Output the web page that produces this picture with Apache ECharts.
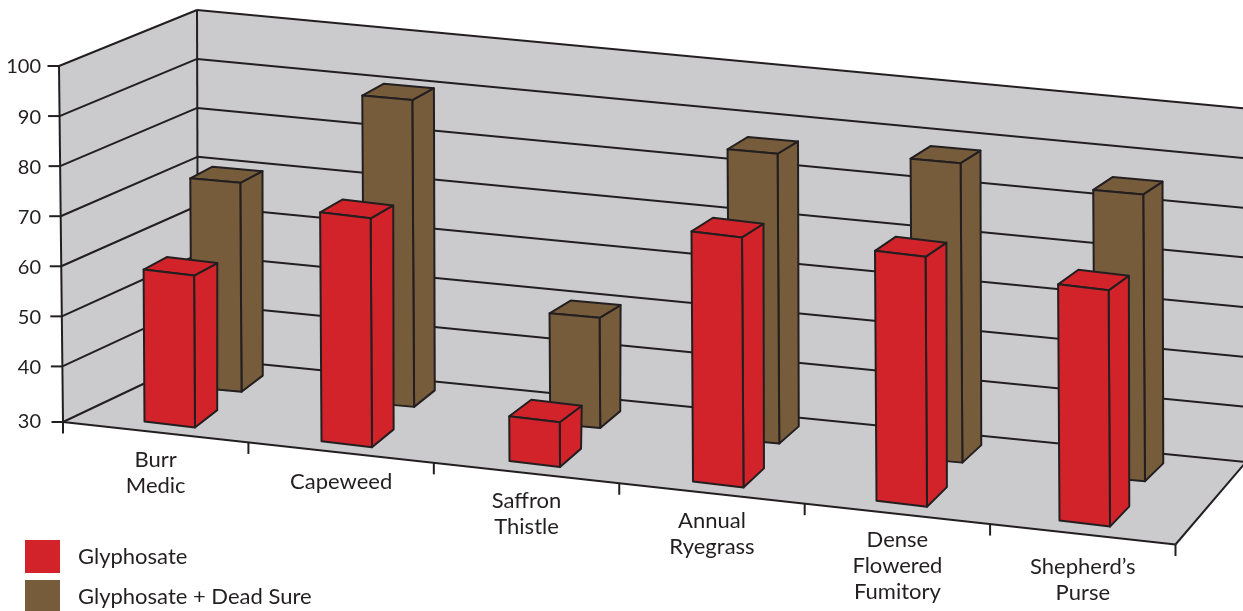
<!DOCTYPE html>
<html>
<head>
<meta charset="utf-8">
<style>html,body{margin:0;padding:0;background:#fff;overflow:hidden}#chart{width:1243px;height:611px}</style>
<script src="https://cdn.jsdelivr.net/npm/echarts@6/dist/echarts.min.js"></script>
</head>
<body>
<div id="chart"></div>
<script>
// Weed control by herbicide treatment
const categories = ['Burr\nMedic', 'Capeweed', 'Saffron\nThistle', 'Annual\nRyegrass', 'Dense\nFlowered\nFumitory', 'Shepherd\u2019s\nPurse'];
const glyphosate = [59.2, 74.5, 37.8, 78.5, 78.4, 75.6];
const glyphosateDeadSure = [70.6, 90, 50.8, 86.4, 88.2, 85.6];
const tickValues = [30, 40, 50, 60, 70, 80, 90, 100];

// The axis runs slightly past its lowest tick, which is drawn on the floor.
const axisFloor = 28.9;
const axisTop = 100;

const INK = '#231f20';
const WALL = '#cbcbcd';
const FONT = 'Lato';
const LINE = 2;

// Corners of the chart box: [across, depth, up] -> screen position.
const box = {
  '000': [63, 422], '001': [59, 66], '010': [198, 358], '011': [197, 10],
  '100': [1175.5, 544.5], '101': [1173, 185], '110': [1246, 462], '111': [1246, 108.5]
};
const lerp = (a, b, t) => a + (b - a) * t;
const lerp2 = (a, b, t) => [lerp(a[0], b[0], t), lerp(a[1], b[1], t)];

function boxPoint(u, d, h) {
  const near = lerp2(lerp2(box['000'], box['100'], u), lerp2(box['001'], box['101'], u), h);
  const far = lerp2(lerp2(box['010'], box['110'], u), lerp2(box['011'], box['111'], u), h);
  return lerp2(near, far, d);
}

// Each treatment stands on its own row of the floor; the boxes sit a little
// unevenly along a row, hence the per-category shifts.
const rows = {
  front: {
    from: [75.5, 414.5], to: [1176.5, 533.5], width: [50.5, 6], depthFrom: [22.5, -17], depthTo: [19, -20.5],
    shift: [[2.5, 0], [-4, 0], [0.5, 0], [0.5, 0.5], [0.5, 0], [0, 0]]
  },
  back: {
    from: [122.5, 379.5], to: [1209, 488], width: [50, 4.5], depthFrom: [21.5, -16], depthTo: [18, -18],
    shift: [[3.5, 1], [-5, -2], [0, 1], [-2, -1.5], [0, -0.5], [1.5, 0]]
  }
};
const labelDrop = [1, 2, 1, 0, -1, 6];

const line = (a, b, width) => ({
  type: 'line',
  shape: { x1: a[0], y1: a[1], x2: b[0], y2: b[1] },
  style: { stroke: INK, lineWidth: width || LINE, fill: null }
});
const face = (points, fill, stroke) => ({
  type: 'polygon',
  shape: { points },
  style: { fill, stroke: stroke || INK, lineWidth: LINE, lineJoin: 'round' }
});

function norm(params, api, i, v) {
  const p = api.coord([i, v]);
  const g = params.coordSys;
  return { u: (p[0] - g.x) / g.width, h: (g.y + g.height - p[1]) / g.height };
}

// Walls, floor, grid lines, ticks and their labels.
function renderFrame(params, api) {
  const children = [
    face([box['000'], box['001'], box['011'], box['010']], WALL, 'none'),
    face([box['010'], box['011'], box['111'], box['110']], WALL, 'none'),
    face([box['000'], box['010'], box['110'], box['100']], WALL, 'none')
  ];
  tickValues.forEach((t, k) => {
    const { h } = norm(params, api, 0, k === 0 ? axisFloor : t);
    const a = boxPoint(0, 0, h), b = boxPoint(0, 1, h), c = boxPoint(1, 1, h);
    children.push(line(a, b), line(b, c), line([a[0] - 11.5, a[1]], a));
    children.push({
      type: 'text',
      style: { text: String(t), x: 41, y: a[1] + (k === 0 ? 0 : 1), align: 'right', verticalAlign: 'middle', fill: INK, font: '20px ' + FONT }
    });
  });
  children.push(line(boxPoint(0, 0, 0), boxPoint(0, 0, 1)));
  children.push(line(boxPoint(0, 1, 0), boxPoint(0, 1, 1)));
  children.push(line(boxPoint(0, 0, 0), boxPoint(1, 0, 0)));
  children.push(line(boxPoint(1, 0, 0), boxPoint(1, 1, 0)));
  const n = categories.length;
  for (let i = 0; i <= n; i++) {
    const p = boxPoint(i / n, 0, 0);
    children.push(line(p, [p[0], p[1] + 11.5]));
  }
  categories.forEach((name, i) => {
    const { u } = norm(params, api, i, axisFloor);
    const p = boxPoint(u, 0, 0);
    children.push({
      type: 'text',
      style: { text: name, x: p[0], y: p[1] + 14 + labelDrop[i], align: 'center', verticalAlign: 'top', fill: INK, font: '22px ' + FONT, lineHeight: 26 }
    });
  });
  return { type: 'group', children };
}

// One box per value: front face, right side and lid.
function barRenderer(row, color) {
  return function (params, api) {
    const i = api.value(0);
    const { u, h } = norm(params, api, i, api.value(1));
    const base = lerp2(row.from, row.to, u);
    const c = [base[0] + row.shift[i][0], base[1] + row.shift[i][1]];
    const rise = lerp(356, 360, u) * h;
    const dp = lerp2(row.depthFrom, row.depthTo, u);
    const hw = [row.width[0] / 2, row.width[1] / 2];
    const fl = [c[0] - hw[0], c[1] - hw[1]], fr = [c[0] + hw[0], c[1] + hw[1]];
    const up = (p) => [p[0] - rise * 0.006, p[1] - rise];
    const rb = [fr[0] + dp[0], fr[1] + dp[1]];
    const tfl = up(fl), tfr = up(fr);
    // Lids of taller boxes are seen at a flatter angle.
    const lift = dp[1] * (1 - 0.28 * Math.min(1, h / 0.35));
    const trb = [tfr[0] + dp[0] + 1, tfr[1] + lift], tbl = [tfl[0] + dp[0] + 1, tfl[1] + lift];
    return {
      type: 'group',
      children: [
        face([fr, tfr, trb, rb], color),
        face([tfl, tfr, trb, tbl], color),
        face([fl, tfl, tfr, fr], color)
      ]
    };
  };
}

const barData = (values) => values.map((v, i) => [i, v]);

const chart = echarts.init(document.getElementById('chart'), null, { renderer: 'canvas' });
chart.setOption({
  animation: false,
  backgroundColor: '#ffffff',
  grid: { left: 0, right: 0, top: 0, bottom: 0 },
  xAxis: { type: 'category', data: categories, show: false },
  yAxis: { type: 'value', min: axisFloor, max: axisTop, show: false },
  legend: {
    orient: 'vertical', left: 25, top: 540, height: 120, padding: 0,
    itemWidth: 35, itemHeight: 33, itemGap: 7,
    selectedMode: false, icon: 'rect',
    data: ['Glyphosate', 'Glyphosate + Dead Sure'],
    textStyle: { color: INK, fontFamily: FONT, fontSize: 22, padding: [0, 0, 0, 13] }
  },
  series: [
    { type: 'custom', name: 'frame', z: 1, silent: true, renderItem: renderFrame, data: [[0, axisFloor]], encode: { x: 0, y: 1 } },
    { type: 'custom', name: 'Glyphosate + Dead Sure', z: 2, silent: true, itemStyle: { color: '#775c3c' }, renderItem: barRenderer(rows.back, '#775c3c'), data: barData(glyphosateDeadSure), encode: { x: 0, y: 1 } },
    { type: 'custom', name: 'Glyphosate', z: 3, silent: true, itemStyle: { color: '#d2232a' }, renderItem: barRenderer(rows.front, '#d2232a'), data: barData(glyphosate), encode: { x: 0, y: 1 } }
  ]
});
</script>
</body>
</html>
